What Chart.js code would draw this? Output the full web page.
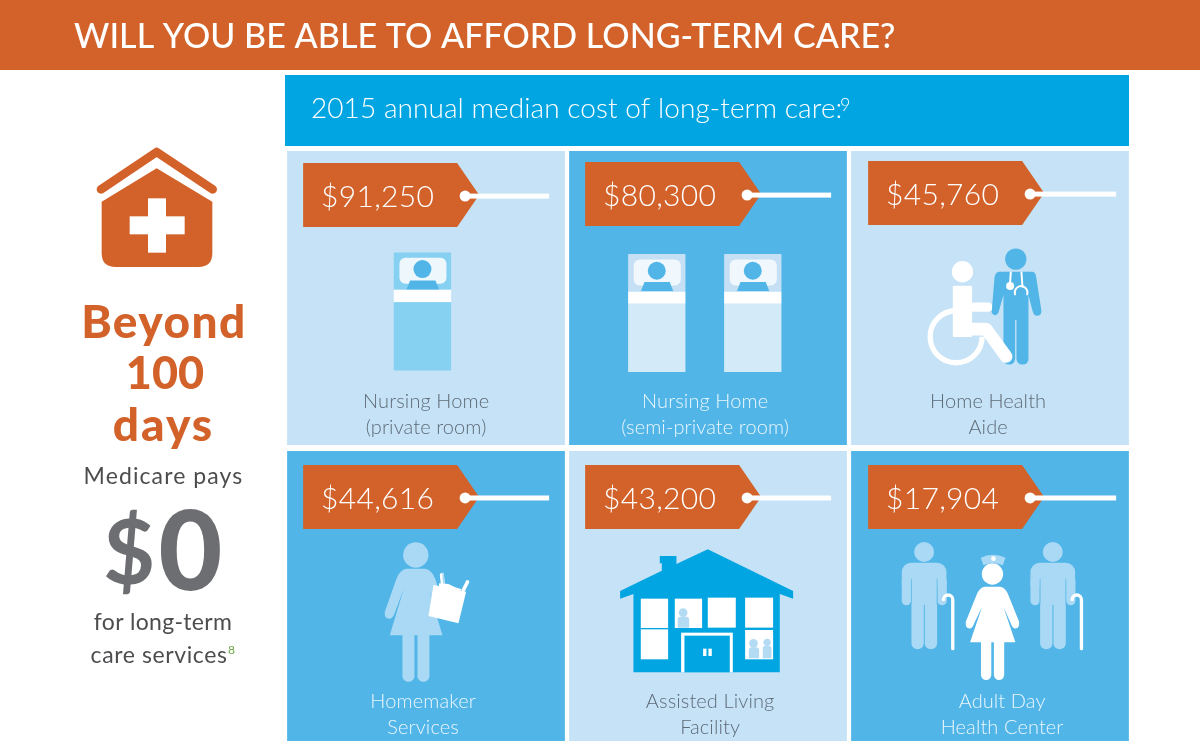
<!DOCTYPE html>
<html>
<head>
<meta charset="utf-8">
<title>Will you be able to afford long-term care?</title>
<script src="https://cdn.jsdelivr.net/npm/chart.js@4"></script>
<style>
  html, body { margin: 0; padding: 0; background: #fff; overflow: hidden; }
  canvas { display: block; }
</style>
</head>
<body>
<canvas id="careChart" width="1200" height="741"></canvas>
<script>
// data, top row then bottom row
const columns = ['left', 'middle', 'right'];
const topCareTypes = [['Nursing Home', '(private room)'], ['Nursing Home', '(semi-private room)'], ['Home Health', 'Aide']];
const bottomCareTypes = [['Homemaker', 'Services'], ['Assisted Living', 'Facility'], ['Adult Day', 'Health Center']];
const topCosts = [91250, 80300, 45760];
const bottomCosts = [44616, 43200, 17904];

var ORANGE = '#d2622a';
var LIGHT = '#c5e2f6';
var MID = '#51b5e8';
var BRIGHT = '#00a5e1';
var SOFT = '#a9d9f4';
var FONT = 'Lato, "Open Sans", sans-serif';

function text(ctx, str, x, y, font, color, align, spacing) {
  ctx.font = font;
  ctx.fillStyle = color;
  ctx.textAlign = align || 'left';
  ctx.textBaseline = 'alphabetic';
  ctx.letterSpacing = (spacing || 0) + 'px';
  ctx.fillText(str, x, y);
  ctx.letterSpacing = '0px';
}

function rr(ctx, x, y, w, h, r, color) {
  ctx.fillStyle = color;
  ctx.beginPath();
  ctx.roundRect(x, y, w, h, r);
  ctx.fill();
}

function dot(ctx, x, y, r, color) {
  ctx.fillStyle = color;
  ctx.beginPath();
  ctx.arc(x, y, r, 0, Math.PI * 2);
  ctx.fill();
}

function poly(ctx, pts, color) {
  ctx.fillStyle = color;
  ctx.beginPath();
  pts.forEach(function (p, i) {
    if (i === 0) ctx.moveTo(p[0], p[1]); else ctx.lineTo(p[0], p[1]);
  });
  ctx.closePath();
  ctx.fill();
}

function line(ctx, pts, width, color) {
  ctx.strokeStyle = color;
  ctx.lineWidth = width;
  ctx.lineCap = 'round';
  ctx.lineJoin = 'round';
  ctx.beginPath();
  pts.forEach(function (p, i) {
    if (i === 0) ctx.moveTo(p[0], p[1]); else ctx.lineTo(p[0], p[1]);
  });
  ctx.stroke();
}

// icons are sketched on a 3x grid, this puts the grid on the page
function grid(ctx, x, y, draw) {
  ctx.save();
  ctx.translate(x, y);
  ctx.scale(1 / 3, 1 / 3);
  draw();
  ctx.restore();
}

function bed(ctx, x, y, frame, body, pillow) {
  rr(ctx, x, y, 172, 112, 2, frame);
  rr(ctx, x, y + 148, 172, 206, 2, body);
  rr(ctx, x + 17, y + 16, 141, 78, 18, pillow);
  dot(ctx, x + 86, y + 50, 27, MID);
  poly(ctx, [[x + 38, y + 112], [x + 49, y + 84], [x + 125, y + 84], [x + 136, y + 112]], MID);
  ctx.fillStyle = '#fff';
  ctx.fillRect(x, y + 112, 172, 37);
}

// k narrows the figure, the nurse is a bit slimmer than the homemaker
function woman(ctx, cx, headY, headR, top, skirt, legEnd, k, color) {
  var hand = top + (skirt - top) * 0.75;
  dot(ctx, cx, headY, headR, color);
  ctx.fillStyle = color;
  ctx.beginPath();
  ctx.moveTo(cx - 28 * k, top);
  ctx.quadraticCurveTo(cx - 48 * k, top + 4, cx - 58 * k, top + 30);
  ctx.lineTo(cx - 93 * k, hand - 20);
  ctx.quadraticCurveTo(cx - 95 * k, hand, cx - 80 * k, hand);
  ctx.quadraticCurveTo(cx - 70 * k, hand, cx - 64 * k, hand - 15);
  ctx.lineTo(cx - 36 * k, top + 60);
  ctx.lineTo(cx - 78 * k, skirt);
  ctx.lineTo(cx + 80 * k, skirt);
  ctx.lineTo(cx + 38 * k, top + 60);
  ctx.lineTo(cx + 64 * k, hand - 15);
  ctx.quadraticCurveTo(cx + 70 * k, hand, cx + 80 * k, hand);
  ctx.quadraticCurveTo(cx + 95 * k, hand, cx + 93 * k, hand - 20);
  ctx.lineTo(cx + 58 * k, top + 30);
  ctx.quadraticCurveTo(cx + 48 * k, top + 4, cx + 28 * k, top);
  ctx.closePath();
  ctx.fill();
  rr(ctx, cx - 40 * k, skirt - 2, 36 * k, legEnd - skirt + 2, [0, 0, 16, 16], color);
  rr(ctx, cx + 5 * k, skirt - 2, 36 * k, legEnd - skirt + 2, [0, 0, 16, 16], color);
}

function man(ctx, cx, color) {
  dot(ctx, cx, 306, 30, color);
  rr(ctx, cx - 67, 338, 134, 70, [28, 28, 0, 0], color);
  rr(ctx, cx - 67, 380, 28, 86, 14, color);
  rr(ctx, cx + 40, 380, 28, 86, 14, color);
  rr(ctx, cx - 38, 380, 37, 218, [0, 0, 18, 18], color);
  rr(ctx, cx + 2, 380, 37, 218, [0, 0, 18, 18], color);
  ctx.fillStyle = color;
  ctx.fillRect(cx - 38, 380, 77, 85);
  line(ctx, [[cx - 38, 388], [cx - 38, 462]], 2, MID);
  line(ctx, [[cx + 39, 388], [cx + 39, 462]], 2, MID);
  // cane
  ctx.strokeStyle = '#fff';
  ctx.lineWidth = 10;
  ctx.lineCap = 'round';
  ctx.beginPath();
  ctx.moveTo(cx + 86, 596);
  ctx.lineTo(cx + 86, 449);
  ctx.arc(cx + 72, 449, 14, 0, Math.PI, true);
  ctx.stroke();
}

var icons = [
  function (ctx) {
    bed(ctx, 326, 322, '#86d0f2', '#86d0f2', '#eef7fc');
  },
  function (ctx) {
    bed(ctx, 177, 327, '#c5e0f5', '#d3eaf9', '#f1f8fd');
    bed(ctx, 465, 327, '#c5e0f5', '#d3eaf9', '#f1f8fd');
  },
  function (ctx) {
    // doctor
    dot(ctx, 497, 342, 32, MID);
    ctx.fillStyle = MID;
    ctx.beginPath();
    ctx.moveTo(445, 380);
    ctx.lineTo(548, 380);
    ctx.quadraticCurveTo(556, 382, 558, 395);
    ctx.lineTo(574, 498);
    ctx.quadraticCurveTo(574, 512, 560, 512);
    ctx.quadraticCurveTo(552, 512, 548, 500);
    ctx.lineTo(535, 450);
    ctx.lineTo(535, 640);
    ctx.quadraticCurveTo(535, 658, 517, 658);
    ctx.quadraticCurveTo(500, 658, 499, 640);
    ctx.lineTo(499, 525);
    ctx.lineTo(495, 525);
    ctx.lineTo(495, 640);
    ctx.quadraticCurveTo(494, 658, 477, 658);
    ctx.quadraticCurveTo(460, 658, 460, 640);
    ctx.lineTo(460, 450);
    ctx.lineTo(445, 503);
    ctx.quadraticCurveTo(440, 512, 432, 510);
    ctx.quadraticCurveTo(422, 505, 425, 495);
    ctx.lineTo(433, 400);
    ctx.quadraticCurveTo(435, 382, 445, 380);
    ctx.closePath();
    ctx.fill();
    // stethoscope
    line(ctx, [[482, 382], [480, 412]], 6, '#fff');
    line(ctx, [[514, 382], [517, 425]], 6, '#fff');
    dot(ctx, 480, 423, 12, '#fff');
    ctx.strokeStyle = '#fff';
    ctx.lineWidth = 6;
    ctx.beginPath();
    ctx.arc(513, 442, 19, Math.PI * 0.9, Math.PI * 2.1);
    ctx.stroke();
    // wheelchair
    ctx.lineCap = 'butt';
    ctx.lineWidth = 16;
    ctx.beginPath();
    ctx.arc(318, 575, 78, 0, Math.PI * 1.5);
    ctx.stroke();
    dot(ctx, 337, 380, 32, '#fff');
    rr(ctx, 308, 422, 58, 154, 4, '#fff');
    rr(ctx, 360, 472, 66, 28, 12, '#fff');
    line(ctx, [[345, 552], [408, 552], [468, 634]], 38, '#fff');
  },
  function (ctx) {
    woman(ctx, 392, 315, 38, 356, 556, 695, 1, SOFT);
    line(ctx, [[470, 375], [474, 408]], 12, '#fff');
    line(ctx, [[474, 370], [476, 400]], 5, SOFT);
    line(ctx, [[547, 396], [535, 420]], 11, '#fff');
    poly(ctx, [[462, 400], [490, 402], [510, 412], [530, 418], [520, 430], [460, 420]], '#fff');
    poly(ctx, [[445, 405], [543, 425], [520, 520], [430, 498]], '#fff');
  },
  function (ctx) {
    poly(ctx, [[416, 298], [672, 423], [672, 446], [632, 432], [632, 667], [193, 667], [193, 432], [153, 446], [153, 423], [278, 362], [278, 340], [272, 340], [272, 318], [322, 318], [322, 342]], BRIGHT);
    var panes = [[215, 446, 82, 88], [317, 446, 82, 88], [416, 443, 84, 90], [528, 443, 84, 90], [215, 538, 82, 90], [528, 540, 84, 88]];
    ctx.fillStyle = '#fff';
    panes.forEach(function (p) { ctx.fillRect(p[0], p[1], p[2], p[3]); });
    // people in the windows
    dot(ctx, 342, 488, 13, '#b3dbf4');
    rr(ctx, 326, 500, 34, 33, [8, 8, 0, 0], '#b3dbf4');
    dot(ctx, 553, 580, 13, '#b3dbf4');
    rr(ctx, 539, 592, 31, 33, [10, 10, 0, 0], '#b3dbf4');
    dot(ctx, 594, 577, 11, '#b3dbf4');
    rr(ctx, 581, 587, 26, 38, [8, 8, 0, 0], '#b3dbf4');
    // door
    ctx.fillStyle = '#fff';
    ctx.fillRect(336, 548, 155, 119);
    ctx.fillStyle = BRIGHT;
    ctx.fillRect(346, 557, 136, 110);
    ctx.fillStyle = '#fff';
    ctx.fillRect(402, 596, 10, 22);
    ctx.fillRect(418, 596, 10, 22);
  },
  function (ctx) {
    man(ctx, 222, SOFT);
    man(ctx, 608, SOFT);
    woman(ctx, 427, 372, 32, 410, 577, 690, 0.86, '#fff');
    // nurse cap
    ctx.fillStyle = SOFT;
    ctx.beginPath();
    ctx.moveTo(392, 323);
    ctx.quadraticCurveTo(428, 306, 466, 323);
    ctx.lineTo(458, 346);
    ctx.quadraticCurveTo(428, 334, 400, 346);
    ctx.closePath();
    ctx.fill();
    dot(ctx, 430, 326, 7, '#fff');
  }
];

// where each sketch grid sits against its tile
var iconGrid = [[2, 6], [0, 6], [1, 6], [2, 1], [0, 1], [1, 1]];
var tagInset = [[16, 12], [16, 11], [17, 10], [16, 14], [16, 14], [17, 14]];
var tagString = [81, 81, 83, 81, 81, 83];
var labelCentre = [139, 136, 137, 136, 141, 151];

function drawTag(ctx, tile, i, cost) {
  var x = tile.left + tagInset[i][0];
  var y = tile.top + tagInset[i][1];
  poly(ctx, [[x, y], [x + 154, y], [x + 176, y + 32], [x + 154, y + 64], [x, y + 64]], ORANGE);
  var lineY = y + 33;
  ctx.fillStyle = '#fff';
  ctx.fillRect(x + 165, lineY - 2.5, tagString[i], 5);
  dot(ctx, x + 162, lineY, 5.5, '#fff');
  text(ctx, '$' + cost.toLocaleString('en-US'), x + 18, y + 44, '300 30px ' + FONT, '#fff', 'left', 0.3);
}

function drawTile(ctx, tile, i, cost, lines, color) {
  drawTag(ctx, tile, i, cost);
  grid(ctx, tile.left - iconGrid[i][0], tile.top - iconGrid[i][1], function () { icons[i](ctx); });
  lines.forEach(function (s, n) {
    text(ctx, s, tile.left + labelCentre[i], tile.top + 257 + n * 26, '300 20px ' + FONT, color, 'center', 0.1);
  });
}

function drawPanel(ctx) {
  // header bands
  ctx.fillStyle = ORANGE;
  ctx.fillRect(0, 0, 1200, 70);
  text(ctx, 'WILL YOU BE ABLE TO AFFORD LONG-TERM CARE?', 74, 48, '500 34px ' + FONT, '#fff', 'left', 0.05);
  ctx.fillStyle = BRIGHT;
  ctx.fillRect(285, 75, 844, 71);
  text(ctx, '2015 annual median cost of long-term care:', 311, 118, '300 28px ' + FONT, '#fff', 'left', 0.07);
  text(ctx, '9', 840, 111, '300 18px ' + FONT, '#fff', 'left', 0);

  // house with the cross
  grid(ctx, 0, 130, function () {
    line(ctx, [[303, 178], [470, 66], [638, 178]], 26, ORANGE);
    ctx.fillStyle = ORANGE;
    ctx.beginPath();
    ctx.moveTo(470, 115);
    ctx.lineTo(637, 215);
    ctx.lineTo(637, 370);
    ctx.quadraticCurveTo(637, 411, 595, 411);
    ctx.lineTo(347, 411);
    ctx.quadraticCurveTo(305, 411, 305, 370);
    ctx.lineTo(305, 215);
    ctx.closePath();
    ctx.fill();
    ctx.fillStyle = '#fff';
    ctx.fillRect(444, 205, 54, 163);
    ctx.fillRect(389, 259, 165, 54);
  });

  text(ctx, 'Beyond', 164, 338, '900 46px ' + FONT, ORANGE, 'center', 1.5);
  text(ctx, '100', 165, 389, '900 45px ' + FONT, ORANGE, 'center', 0);
  text(ctx, 'days', 163.5, 441, '900 46px ' + FONT, ORANGE, 'center', 2);
  text(ctx, 'Medicare pays', 163.5, 484, '400 23px ' + FONT, '#4d4d4f', 'center', 1.1);
  text(ctx, '$', 129, 584, '700 90px ' + FONT, '#6d6e71', 'center', 0);
  text(ctx, '0', 190.5, 590, '900 110px ' + FONT, '#6d6e71', 'center', 0);
  text(ctx, 'for long-term', 163, 630, '400 23px ' + FONT, '#4d4d4f', 'center', 0.3);
  text(ctx, 'care services', 159, 663, '400 23px ' + FONT, '#4d4d4f', 'center', 0.6);
  text(ctx, '8', 228, 654, '400 12px ' + FONT, '#6da544', 'left', 0);
}

var infographic = {
  id: 'infographic',
  beforeDatasetsDraw: function (chart) {
    drawPanel(chart.ctx);
  },
  afterDatasetsDraw: function (chart) {
    var ctx = chart.ctx;
    var rows = [[topCosts, topCareTypes], [bottomCosts, bottomCareTypes]];
    rows.forEach(function (row, r) {
      chart.getDatasetMeta(r).data.forEach(function (bar, c) {
        var tile = { left: bar.x - bar.width / 2, top: Math.min(bar.y, bar.base) };
        var fill = chart.data.datasets[r].backgroundColor[c];
        drawTile(ctx, tile, r * 3 + c, row[0][c], row[1][c], fill === LIGHT ? '#5f6b78' : '#eaf6fd');
      });
    });
  }
};

new Chart(document.getElementById('careChart').getContext('2d'), {
  type: 'bar',
  data: {
    labels: columns,
    datasets: [
      { label: 'top', data: columns.map(function () { return [0.007, 0.99]; }), backgroundColor: [LIGHT, MID, LIGHT] },
      { label: 'bottom', data: columns.map(function () { return [1.01, 1.98]; }), backgroundColor: [MID, LIGHT, MID] }
    ]
  },
  options: {
    responsive: false,
    animation: false,
    devicePixelRatio: 1,
    layout: { padding: { left: 285, right: 69, top: 149, bottom: 0 } },
    datasets: { bar: { grouped: false, barPercentage: 1, categoryPercentage: 0.985 } },
    plugins: { legend: { display: false }, tooltip: { enabled: false } },
    scales: {
      x: { display: false },
      y: { display: false, reverse: true, min: 0, max: 1.98 }
    }
  },
  plugins: [infographic]
});
</script>
</body>
</html>
